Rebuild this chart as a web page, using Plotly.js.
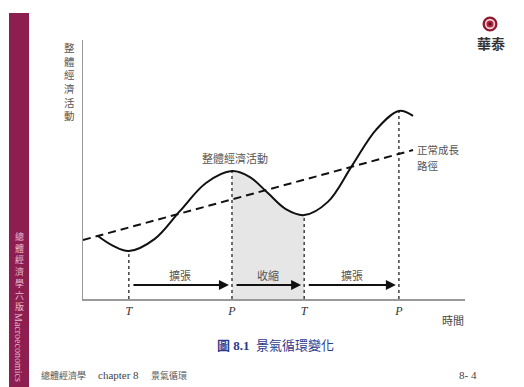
<!DOCTYPE html>
<html>
<head>
<meta charset="utf-8">
<script src="https://cdn.plot.ly/plotly-3.0.1.min.js"></script>
<style>
html,body{margin:0;padding:0;background:#fff;}
#chart{width:524px;height:387px;}
</style>
</head>
<body>
<div id="chart"></div>
<script>
// ---- data (time units, activity units) ----
const curveT = [0.39, 0.79, 1.20, 1.88, 2.54, 3.22, 3.90, 4.37, 4.84, 5.31, 5.79, 6.41, 7.04, 7.67, 8.27, 8.64];
const curveV = [2.43, 2.05, 1.85, 2.32, 3.40, 4.48, 4.94, 4.71, 4.09, 3.47, 3.24, 3.75, 5.14, 6.53, 7.26, 7.07];
const trendT = [0.00, 8.64];
const trendV = [2.28, 5.75];
const turnT = [1.20, 3.90, 5.79, 8.27];
const turnV = [1.85, 4.94, 3.24, 7.26];
const turnLabels = ['T', 'P', 'T', 'P'];
const phaseLabels = ['擴張', '收縮', '擴張'];
const trendLabel = ['正常成長', '路徑'];
const yTitleChars = ['整', '體', '經', '濟', '活', '動'];
const sideChars = ['總', '體', '經', '濟', '學', '六', '版'];

// ---- geometry helpers (pixel -> paper) ----
const L = 83, R = 465, T = 40, B = 299;
const px = x => (x - L) / (R - L);
const py = y => (B - y) / (B - T);

const cjk = 'Noto Sans CJK TC, Noto Sans CJK SC, sans-serif';
const serif = 'Liberation Serif, Noto Sans CJK TC, serif';

const traces = [];
// shaded contraction area
const shadeT = [], shadeV = [];
curveT.forEach((t, i) => { if (t >= turnT[1] - 1e-6 && t <= turnT[2] + 1e-6) { shadeT.push(t); shadeV.push(curveV[i]); } });
traces.push({x: shadeT, y: shadeV, mode: 'lines', fill: 'tozeroy', fillcolor: '#e6e6e6',
  line: {width: 0, shape: 'spline', color: 'rgba(0,0,0,0)'}, hoverinfo: 'skip'});
// dotted verticals
turnT.forEach((t, i) => {
  traces.push({x: [t, t], y: [0, turnV[i]], mode: 'lines',
    line: {color: '#333', width: 1.4, dash: 'dot'}, hoverinfo: 'skip'});
});
// trend
traces.push({x: trendT, y: trendV, mode: 'lines', line: {color: '#111', width: 2, dash: '8px,5px'}, hoverinfo: 'skip'});
// activity curve
traces.push({x: curveT, y: curveV, mode: 'lines', line: {color: '#111', width: 2, shape: 'spline', smoothing: 1}, hoverinfo: 'skip'});

const ann = [];
const P = (x, y, text, font, extra) => Object.assign({x: px(x), y: py(y), xref: 'paper', yref: 'paper',
  xanchor: 'center', yanchor: 'middle', borderpad: 0, text: text, showarrow: false, font: font}, extra || {});
// phase arrows and labels
const arrowV = 0.54, labelV = 0.93, gap = 0.08;
for (let i = 0; i < 3; i++) {
  const a = turnT[i] + gap, b = turnT[i + 1] - gap;
  ann.push({x: b, y: arrowV, ax: a, ay: arrowV, xref: 'x', yref: 'y', axref: 'x', ayref: 'y',
    text: '', showarrow: true, arrowhead: 2, arrowsize: 1, arrowwidth: 2, arrowcolor: '#111'});
  ann.push({x: (turnT[i] + turnT[i + 1]) / 2, y: labelV, xref: 'x', yref: 'y', xanchor: 'center', yanchor: 'middle',
    text: phaseLabels[i], showarrow: false, font: {family: cjk, size: 11, color: '#555'}});
}
// curve labels
ann.push({x: 3.98, y: 5.44, xref: 'x', yref: 'y', xanchor: 'center', yanchor: 'middle', text: '整體經濟活動', showarrow: false,
  font: {family: cjk, size: 11, color: '#555'}});
ann.push(P(416, 149, trendLabel[0], {family: cjk, size: 10.5, color: '#555'}, {xanchor: 'left'}));
ann.push(P(416, 165, trendLabel[1], {family: cjk, size: 10.5, color: '#555'}, {xanchor: 'left'}));
// y title stacked
ann.push(P(69, 81, yTitleChars.join('<br>'), {family: cjk, size: 10.5, color: '#555'}));
// x title
ann.push(P(453, 320, '時間', {family: cjk, size: 11, color: '#444'}));
// caption
ann.push(P(275, 345, '<b>圖 8.1</b>  景氣循環變化', {family: serif, size: 13, color: '#2d3a8c'}));
// footer
ann.push(P(40, 375, '總體經濟學', {family: cjk, size: 9, color: '#555'}, {xanchor: 'left'}));
ann.push(P(97, 375, 'chapter 8', {family: 'Liberation Serif, serif', size: 11, color: '#444'}, {xanchor: 'left'}));
ann.push(P(150, 375, '景氣循環', {family: cjk, size: 9, color: '#555'}, {xanchor: 'left'}));
ann.push(P(478, 375, '8- 4', {family: 'Liberation Serif, serif', size: 11, color: '#444'}, {xanchor: 'right'}));
// side bar text
ann.push(P(19, 271, sideChars.join('<br>'), {family: cjk, size: 9, color: '#e9bcd0'}));
ann.push(P(19, 347, 'Macroeconomics', {family: 'Liberation Serif, serif', size: 10, color: '#e9bcd0'}, {textangle: 90}));
// logo text
ann.push(P(491, 44, '<b>華泰</b>', {family: serif, size: 14, color: '#333'}));

const circ = (cx, cy, r, color) => ({type: 'circle', xref: 'paper', yref: 'paper',
  x0: px(cx - r), x1: px(cx + r), y0: py(cy + r), y1: py(cy - r), fillcolor: color, line: {width: 0}, layer: 'above'});

const shapes = [
  {type: 'rect', xref: 'paper', yref: 'paper', x0: px(9), x1: px(29), y0: py(387), y1: py(13),
    fillcolor: '#8c1e50', line: {width: 0}, layer: 'below'},
  circ(490, 24, 7.5, '#8e1a2e'),
  circ(490, 24, 5.2, '#f2d6da'),
  circ(490, 24, 3.6, '#b3263f'),
  circ(490, 24, 1.4, '#5a0f1c')
];

const layout = {
  width: 524, height: 387,
  margin: {l: L, r: 524 - R, t: T, b: 387 - B, pad: 0},
  paper_bgcolor: '#fff', plot_bgcolor: '#fff',
  showlegend: false,
  xaxis: {range: [0, 10], showline: true, linecolor: '#999', linewidth: 1.5, showgrid: false, zeroline: false,
    tickvals: turnT, ticktext: turnLabels, ticks: '', fixedrange: true,
    tickfont: {family: 'Liberation Serif, serif', size: 12, style: 'italic', color: '#333'}},
  yaxis: {range: [0, 10], showline: true, linecolor: '#999', linewidth: 1.5, showgrid: false, zeroline: false,
    showticklabels: false, ticks: '', fixedrange: true},
  annotations: ann,
  shapes: shapes
};

Plotly.newPlot('chart', traces, layout, {displayModeBar: false, staticPlot: true});
</script>
</body>
</html>
